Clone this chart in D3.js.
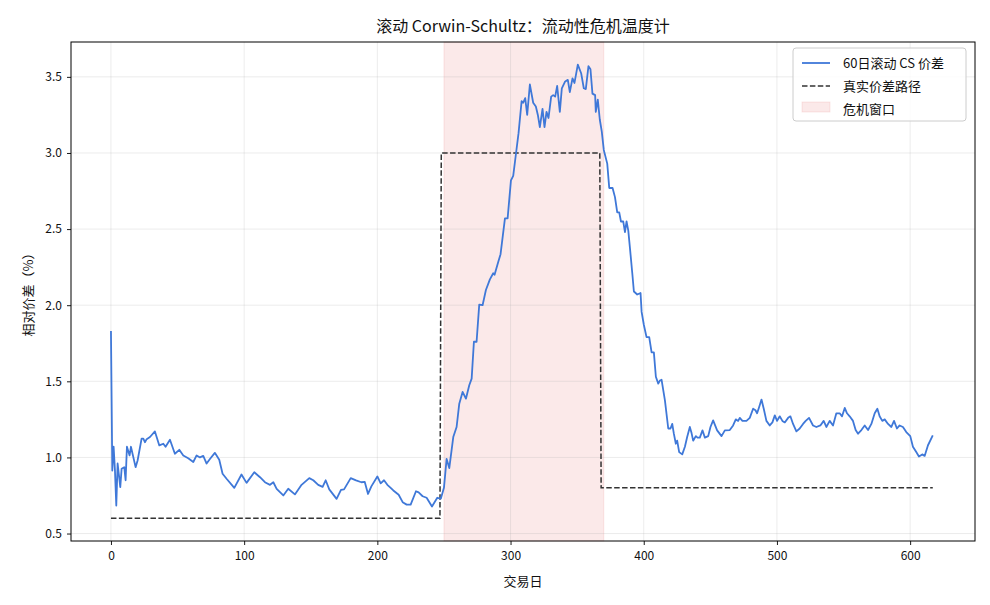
<!DOCTYPE html>
<html>
<head>
<meta charset="utf-8">
<script src="https://cdn.jsdelivr.net/npm/d3@7"></script>
<style>
  body { margin: 0; background: #fff; }
  svg text { font-family: "Noto Sans CJK SC", "DejaVu Sans", sans-serif; fill: #111; }
</style>
</head>
<body>
<svg id="chart" width="990" height="605"></svg>
<script>
// rolling CS spread: [day, value %]
const csDays = [0,1,2,3,4,5,7,8,10,11,12,14,15,18.5,20,23,24.3,25.5,26.8,29.3,33,36.3,39.3,41,44.3,48,51.3,54.3,58,61.8,64.3,66.8,69.3,71.8,74.3,78,81.3,83.8,86.8,92.6,98,101.8,107.6,111.9,115.6,119.4,121.9,124.4,129.4,133.1,138.1,143.1,148.9,151.9,155.6,158.9,161.2,163.9,169.4,172.7,175,180,184,188,190.5,193,195.5,200,202.5,205,207.5,210,212,216,219,222,225,229,231,234,237,241,245,247.7,250,252,254,257,259.5,261.5,264,266.5,269,270.8,272.5,274.5,276.5,279,281.5,284.5,287,288,290.8,292.5,295.8,297.8,300.3,302,304,306,308.3,309.5,311,312.5,314.5,317,319,320.5,322,324,325.5,327,328.5,330.5,332,333.5,335,337,338.5,341,343,344.5,346.5,348,350.5,353,355,356.5,358.5,360,361.5,363.5,364,365.5,367,368.5,370,372.6,374.1,376.6,378.4,380.1,381.6,382.9,384.6,385.9,387.1,388.4,389.6,391.4,392.6,393.9,395.1,397.6,398.4,400.1,402.1,404.1,405.9,407.6,409.1,410.9,412.1,413.4,415.9,418.4,420.1,421.4,422.6,424.1,425.1,426.6,428.9,430.9,432.6,434.6,435.9,437.1,439.1,440.4,442.1,444.1,445.9,448.4,450.1,452.1,455.1,458.4,460.9,464.6,467.1,469.1,470.9,472.1,474.1,477.1,479.6,482.1,483.9,485.1,486.6,488.4,490.1,492.1,494.6,496.6,498.4,500.1,502.1,504.1,505.9,508.4,510.1,512.1,514.6,517.1,519.6,521.6,524.1,527.1,529.6,532.6,535.1,537.1,539.6,542.1,544.6,547.1,548.9,550.9,552.6,554.6,557.1,559.1,560.9,563.4,565.9,568.4,570.9,573.4,575.4,577.1,579.1,580.9,583.4,585.9,587.9,590.1,592.1,594.6,597.1,600.1,602.1,604.6,606.6,609.1,610.9,613.4,617];
const csValues = [1.83,0.914,1.07,0.914,0.684,0.96,0.805,0.925,0.936,0.85,1.07,1.013,1.07,0.936,0.98,1.123,1.123,1.10,1.12,1.134,1.171,1.079,1.09,1.07,1.116,1.024,1.05,1.013,0.995,0.97,1.013,1.0,1.01,0.96,0.99,1.03,0.985,0.893,0.86,0.80,0.888,0.833,0.903,0.87,0.837,0.82,0.837,0.794,0.75,0.794,0.757,0.82,0.864,0.85,0.82,0.807,0.85,0.79,0.728,0.787,0.79,0.864,0.849,0.837,0.84,0.76,0.81,0.875,0.83,0.85,0.82,0.80,0.783,0.755,0.706,0.69,0.69,0.778,0.77,0.745,0.735,0.678,0.735,0.73,0.80,0.99,0.93,1.134,1.2,1.353,1.43,1.386,1.474,1.518,1.76,1.76,2.004,2.0,2.1,2.17,2.21,2.20,2.285,2.335,2.57,2.57,2.82,2.85,2.99,3.13,3.34,3.33,3.36,3.25,3.45,3.33,3.305,3.25,3.17,3.29,3.17,3.27,3.23,3.37,3.38,3.37,3.44,3.27,3.425,3.47,3.48,3.40,3.49,3.46,3.58,3.524,3.425,3.42,3.57,3.55,3.39,3.38,3.27,3.35,3.22,3.14,3.02,2.93,2.77,2.77,2.71,2.61,2.61,2.55,2.55,2.48,2.55,2.49,2.38,2.21,2.09,2.08,2.07,2.08,1.956,1.87,1.79,1.79,1.69,1.69,1.53,1.485,1.505,1.51,1.375,1.19,1.19,1.22,1.156,1.09,1.11,1.035,1.02,1.07,1.134,1.2,1.16,1.11,1.14,1.13,1.13,1.178,1.13,1.14,1.2,1.243,1.178,1.14,1.178,1.18,1.21,1.25,1.24,1.26,1.24,1.24,1.26,1.32,1.31,1.29,1.33,1.38,1.32,1.24,1.21,1.23,1.276,1.24,1.27,1.24,1.23,1.26,1.27,1.22,1.171,1.19,1.22,1.24,1.26,1.21,1.20,1.21,1.24,1.20,1.24,1.21,1.29,1.29,1.27,1.325,1.29,1.27,1.24,1.18,1.156,1.18,1.21,1.18,1.22,1.29,1.32,1.27,1.24,1.25,1.22,1.2,1.24,1.19,1.21,1.20,1.167,1.14,1.07,1.035,1.006,1.02,1.01,1.08,1.145];

// true spread path (regimes)
const trueDays = [0,247,248,367,368,617];
const trueValues = [0.6,0.6,3.0,3.0,0.8,0.8];

// crisis window
const crisisStart = 250, crisisEnd = 370;

const xTicks = [0,100,200,300,400,500,600];
const yTicks = [0.5,1.0,1.5,2.0,2.5,3.0,3.5];

const titleText = "滚动 Corwin-Schultz：流动性危机温度计";
const xLabel = "交易日";
const yLabel = "相对价差（%）";
const legendLabels = ["60日滚动 CS 价差", "真实价差路径", "危机窗口"];

const margin = {left: 71, right: 15, top: 42, bottom: 64};
const W = 990, H = 605;
const svg = d3.select('#chart');
const g = svg.append('g').attr('transform', `translate(${margin.left},${margin.top})`);
const pw = W - margin.left - margin.right, ph = H - margin.top - margin.bottom;

const x = d3.scaleLinear().domain([-30.0, 648.7]).range([0, pw]);
const yMin = d3.min(trueValues.concat(csValues)), yMax = d3.max(trueValues.concat(csValues));
const yPad = (yMax - yMin) * 0.05;
const y = d3.scaleLinear().domain([yMin - yPad, yMax + yPad]).range([ph, 0]);

// crisis shading
g.append('rect')
    .attr('x', x(crisisStart))
    .attr('y', 0)
    .attr('width', x(crisisEnd) - x(crisisStart))
    .attr('height', ph)
    .attr('fill', '#d62728')
    .attr('fill-opacity', 0.1)
    .attr('stroke', '#d62728')
    .attr('stroke-opacity', 0.1);

// grid
g.append('g').selectAll('line').data(xTicks).join('line')
    .attr('x1', d => x(d)).attr('x2', d => x(d))
    .attr('y1', 0).attr('y2', ph)
    .attr('stroke', '#b0b0b0').attr('stroke-opacity', 0.3).attr('stroke-width', 0.8);
g.append('g').selectAll('line').data(yTicks).join('line')
    .attr('x1', 0).attr('x2', pw)
    .attr('y1', d => y(d)).attr('y2', d => y(d))
    .attr('stroke', '#b0b0b0').attr('stroke-opacity', 0.3).attr('stroke-width', 0.8);

// true path
const truePts = trueDays.map((d, i) => [d, trueValues[i]]);
g.append('path')
    .datum(truePts)
    .attr('fill', 'none')
    .attr('stroke', '#333')
    .attr('stroke-width', 1.5)
    .attr('stroke-dasharray', '5.5,2.4')
    .attr('d', d3.line().x(d => x(d[0])).y(d => y(d[1])));

// rolling CS
const csPts = csDays.map((d, i) => [d, csValues[i]]);
g.append('path')
    .datum(csPts)
    .attr('fill', 'none')
    .attr('stroke', '#3f78d8')
    .attr('stroke-width', 1.8)
    .attr('stroke-linejoin', 'round')
    .attr('d', d3.line().x(d => x(d[0])).y(d => y(d[1])));

// axes
const xAxis = g.append('g').attr('transform', `translate(0,${ph})`)
    .call(d3.axisBottom(x).tickValues(xTicks).tickSize(4).tickPadding(6).tickFormat(d3.format('d')));
const yAxis = g.append('g')
    .call(d3.axisLeft(y).tickValues(yTicks).tickSize(4).tickPadding(5).tickFormat(d3.format('.1f')));
[xAxis, yAxis].forEach(a => {
    a.select('.domain').remove();
    a.selectAll('line').attr('stroke', '#000').attr('stroke-width', 0.9);
    a.selectAll('text').attr('font-size', 12).style('fill', '#111');
});

// frame
g.append('rect')
    .attr('width', pw).attr('height', ph)
    .attr('fill', 'none').attr('stroke', '#000').attr('stroke-width', 1);

// titles
svg.append('text')
    .attr('x', margin.left + pw / 2).attr('y', 32)
    .attr('text-anchor', 'middle').attr('font-size', 16)
    .text(titleText);
svg.append('text')
    .attr('x', margin.left + pw / 2).attr('y', 586)
    .attr('text-anchor', 'middle').attr('font-size', 13)
    .text(xLabel);
svg.append('text')
    .attr('transform', `translate(33,${margin.top + ph / 2}) rotate(-90)`)
    .attr('text-anchor', 'middle').attr('font-size', 13)
    .text(yLabel);

// legend
const lg = g.append('g').attr('transform', `translate(${pw - 182},6)`);
lg.append('rect')
    .attr('width', 173).attr('height', 73).attr('rx', 3)
    .attr('fill', '#fff').attr('fill-opacity', 0.8)
    .attr('stroke', '#ccc');
lg.append('line').attr('x1', 9).attr('x2', 37).attr('y1', 15).attr('y2', 15)
    .attr('stroke', '#3f78d8').attr('stroke-width', 1.8);
lg.append('line').attr('x1', 9).attr('x2', 37).attr('y1', 38).attr('y2', 38)
    .attr('stroke', '#333').attr('stroke-width', 1.5).attr('stroke-dasharray', '5.5,2.4');
lg.append('rect').attr('x', 9).attr('y', 54).attr('width', 28).attr('height', 10)
    .attr('fill', '#d62728').attr('fill-opacity', 0.1)
    .attr('stroke', '#d62728').attr('stroke-opacity', 0.1);
lg.selectAll('text.lab').data(legendLabels).join('text')
    .attr('class', 'lab')
    .attr('x', 50).attr('y', (d, i) => 19.5 + i * 23)
    .attr('font-size', 13)
    .text(d => d);
</script>
</body>
</html>
